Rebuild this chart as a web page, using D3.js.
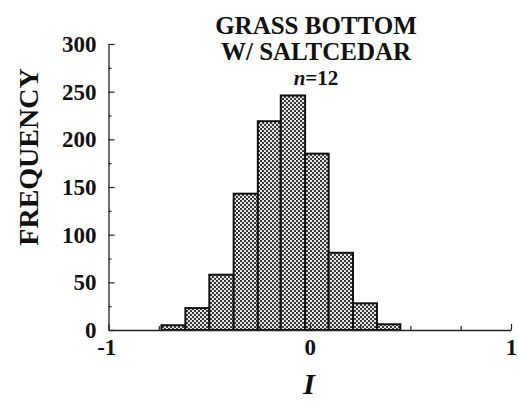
<!DOCTYPE html>
<html><head><meta charset="utf-8">
<script src="https://cdn.jsdelivr.net/npm/d3@7"></script>
<style>
html,body{margin:0;padding:0;background:#fff;}
svg text{font-family:'Liberation Serif','Times New Roman',Times,'DejaVu Serif',serif !important;}
</style></head>
<body>
<svg id="c" width="519" height="404"></svg>
<script>
// Data
const binEdges = [-0.737, -0.618, -0.499, -0.378, -0.258, -0.144, -0.023, 0.094, 0.215, 0.334, 0.450];
const frequencies = [5, 23, 58, 143, 219, 246, 185, 81, 28, 6];
const yMajorTicks = [0, 50, 100, 150, 200, 250, 300];
const yMinorTicks = [25, 75, 125, 175, 225, 275];
const xMajorTicks = [-1, 0, 1];
const xMinorTicks = [-0.75, -0.5, -0.25, 0.25, 0.5, 0.75];
const titleLines = ["GRASS BOTTOM", "W/ SALTCEDAR"];

const FONT = "'Liberation Serif','Times New Roman',Times,'DejaVu Serif',serif";
const svg = d3.select("#c");
const x = d3.scaleLinear().domain([-1, 1]).range([108.5, 511]);
const y = d3.scaleLinear().domain([0, 300]).range([330, 44]);

// pattern
const defs = svg.append("defs");
const pat = defs.append("pattern").attr("id", "chk").attr("width", 4).attr("height", 4)
  .attr("patternUnits", "userSpaceOnUse");
pat.append("rect").attr("width", 4).attr("height", 4).attr("fill", "#e6e6e6");
pat.append("rect").attr("x", 0).attr("y", 0).attr("width", 2).attr("height", 2).attr("fill", "#3a3a3a");
pat.append("rect").attr("x", 2).attr("y", 2).attr("width", 2).attr("height", 2).attr("fill", "#3a3a3a");

// bars
const bins = frequencies.map((f, i) => ({x0: binEdges[i], x1: binEdges[i + 1], f}));
svg.append("g").selectAll("rect").data(bins).join("rect")
  .attr("x", d => x(d.x0))
  .attr("y", d => y(d.f))
  .attr("width", d => x(d.x1) - x(d.x0))
  .attr("height", d => y(0) - y(d.f))
  .attr("fill", "url(#chk)")
  .attr("stroke", "#111")
  .attr("stroke-width", 2);

function styleAxis(g) {
  g.attr("font-family", FONT);
  g.selectAll("path").attr("stroke", "#222").attr("stroke-width", 1.3);
  g.selectAll("line").attr("stroke", "#222").attr("stroke-width", 1.2);
  g.selectAll("text").attr("fill", "#111").attr("font-family", FONT)
    .attr("font-weight", "bold").attr("font-size", 23);
}

// y axis
const yAx = svg.append("g").attr("transform", `translate(${x(-1)},0)`)
  .call(d3.axisLeft(y).tickValues(yMajorTicks).tickSize(-6).tickSizeOuter(0).tickPadding(12))
  .call(styleAxis);
yAx.selectAll("text").attr("dy", "0.32em");
svg.append("g").attr("transform", `translate(${x(-1)},0)`)
  .call(d3.axisLeft(y).tickValues(yMinorTicks).tickSize(-3).tickSizeOuter(0).tickFormat(""))
  .call(styleAxis).select("path").remove();

// x axis
const xAx = svg.append("g").attr("transform", `translate(0,${y(0)})`)
  .call(d3.axisBottom(x).tickValues(xMajorTicks).tickSize(-6).tickSizeOuter(0).tickPadding(9)
    .tickFormat(d => d3.format("d")(d).replace("−", "-")))
  .call(styleAxis);
xAx.selectAll("text").attr("dx", d => d < 0 ? "-0.1em" : 0);
svg.append("g").attr("transform", `translate(0,${y(0)})`)
  .call(d3.axisBottom(x).tickValues(xMinorTicks).tickSize(-4).tickSizeOuter(0).tickFormat(""))
  .call(styleAxis).select("path").remove();

// title
const t = svg.append("text").attr("text-anchor", "middle").attr("font-weight", "bold")
  .attr("font-family", FONT).attr("font-size", 25).attr("fill", "#111");
t.append("tspan").attr("x", 316).attr("y", 34).text(titleLines[0]);
t.append("tspan").attr("x", 316).attr("y", 60).text(titleLines[1]);
const t3 = svg.append("text").attr("text-anchor", "middle").attr("x", 316).attr("y", 84.5)
  .attr("font-family", FONT).attr("font-size", 21).attr("font-weight", "bold").attr("fill", "#111");
t3.append("tspan").attr("font-style", "italic").text("n");
t3.append("tspan").text("=12");

// axis labels
svg.append("text").attr("transform", "translate(38,157) rotate(-90)")
  .attr("font-family", FONT)
  .attr("text-anchor", "middle").attr("font-weight", "bold").attr("font-size", 28)
  .attr("fill", "#111").text("FREQUENCY");
svg.append("text").attr("x", 309).attr("y", 394).attr("text-anchor", "middle")
  .attr("font-family", FONT)
  .attr("font-weight", "bold").attr("font-style", "italic").attr("font-size", 30)
  .attr("fill", "#111").text("I");
</script>
</body></html>
